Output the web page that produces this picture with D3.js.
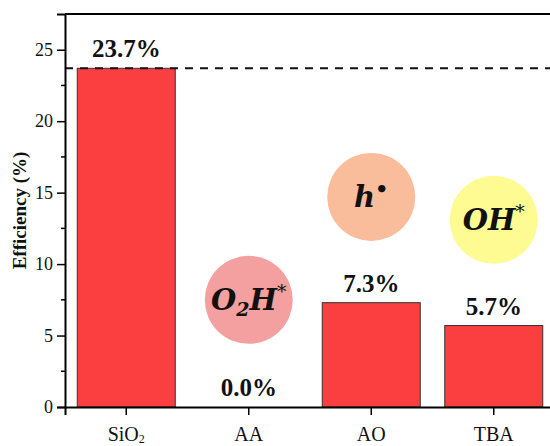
<!DOCTYPE html>
<html>
<head>
<meta charset="utf-8">
<script src="https://cdn.jsdelivr.net/npm/d3@7"></script>
<style>
  html, body { margin: 0; padding: 0; background: #fff; }
  svg { display: block; }
  svg text { font-family: "Liberation Serif", "Times New Roman", Times, serif; }
</style>
</head>
<body>
<svg id="chart" width="550" height="446"></svg>
<script>
// data
const categories = ['SiO2', 'AA', 'AO', 'TBA']
const efficiency = [23.7, 0.0, 7.3, 5.7]
const valueLabels = ['23.7%', '0.0%', '7.3%', '5.7%']
const yTicks = [0, 5, 10, 15, 20, 25]
const referenceLevel = 23.7

// species bubbles (anchored by category + value)
const bubbles = [
  { cat: 'AA', value: 7.5, fill: '#f5a0a0', label: 'O2H' },
  { cat: 'AO', value: 14.7, fill: '#f9bd9b', label: 'h' },
  { cat: 'TBA', value: 13.1, fill: '#fdfb92', label: 'OH' }
]

const svg = d3.select('#chart')
const margin = { top: 14, left: 65, bottom: 39 }
const height = 446

const x = d3.scaleBand()
  .domain(categories)
  .range([margin.left, margin.left + 490])
  .paddingInner(0.2)
  .paddingOuter(0.1)

const y = d3.scaleLinear()
  .domain([0, 27.5])
  .range([height - margin.bottom, margin.top])

// ------------------
// bars
// ------------------
svg.append('g')
  .selectAll('rect')
  .data(categories)
  .join('rect')
  .attr('x', d => x(d))
  .attr('y', (d, i) => y(efficiency[i]))
  .attr('width', x.bandwidth())
  .attr('height', (d, i) => y(0) - y(efficiency[i]))
  .attr('fill', '#fb3e3f')
  .attr('stroke', '#333')
  .attr('stroke-width', 1)

// dashed reference line
svg.append('line')
  .attr('x1', margin.left)
  .attr('x2', 560)
  .attr('y1', y(referenceLevel))
  .attr('y2', y(referenceLevel))
  .attr('stroke', '#111')
  .attr('stroke-width', 2)
  .attr('stroke-dasharray', '8,7')

// value labels
svg.append('g')
  .selectAll('text')
  .data(categories)
  .join('text')
  .attr('x', d => x(d) + x.bandwidth() / 2)
  .attr('y', (d, i) => y(efficiency[i]) - 11)
  .attr('text-anchor', 'middle')
  .attr('font-weight', 'bold')
  .attr('font-size', 25)
  .attr('fill', '#111')
  .text((d, i) => valueLabels[i])

// ------------------
// bubbles
// ------------------
const bg = svg.append('g')
bubbles.forEach(b => {
  const cx = x(b.cat) + x.bandwidth() / 2
  const cy = y(b.value)
  bg.append('circle')
    .attr('cx', cx)
    .attr('cy', cy)
    .attr('r', 44)
    .attr('fill', b.fill)
  const t = bg.append('text')
    .attr('x', cx)
    .attr('y', cy + 10)
    .attr('text-anchor', 'middle')
    .style('font-family', '"DejaVu Serif", serif')
    .attr('font-weight', 'bold')
    .attr('font-style', 'italic')
    .attr('font-size', 29)
    .attr('fill', '#111')
  if (b.label === 'O2H') {
    t.append('tspan').text('O')
    t.append('tspan').attr('font-size', 19).attr('dy', 6).text('2')
    t.append('tspan').attr('dy', -6).text('H')
    t.append('tspan').attr('font-size', 19).attr('font-style', 'normal').attr('font-weight', 'normal').attr('dy', -12).text('*')
  } else if (b.label === 'h') {
    t.append('tspan').text('h')
    t.append('tspan').attr('font-size', 21).attr('font-style', 'normal').attr('dy', -11).text('•')
  } else {
    t.append('tspan').text('OH')
    t.append('tspan').attr('font-size', 19).attr('font-style', 'normal').attr('font-weight', 'normal').attr('dy', -12).text('*')
  }
})

// ------------------
// axes
// ------------------
const yAxis = svg.append('g')
  .attr('transform', `translate(${margin.left},0)`)
  .call(d3.axisLeft(y).tickValues(yTicks).tickSize(8).tickPadding(4))
yAxis.select('.domain').attr('stroke-width', 2)
yAxis.selectAll('.tick line').attr('stroke-width', 1.5)
yAxis.selectAll('text')
  .attr('font-size', 18)
  .attr('fill', '#111')

// minor ticks
svg.append('g')
  .selectAll('line')
  .data([2.5, 7.5, 12.5, 17.5, 22.5])
  .join('line')
  .attr('x1', margin.left - 4)
  .attr('x2', margin.left)
  .attr('y1', d => y(d))
  .attr('y2', d => y(d))
  .attr('stroke', '#000')
  .attr('stroke-width', 1.5)

const xAxis = svg.append('g')
  .attr('transform', `translate(0,${y(0)})`)
  .call(d3.axisBottom(x).tickSize(8).tickPadding(14).tickFormat(() => ''))
xAxis.select('.domain').attr('stroke-width', 2)
xAxis.selectAll('.tick line').attr('stroke-width', 1.5)

// category labels (SiO2 needs subscript)
const xl = svg.append('g')
categories.forEach(c => {
  const t = xl.append('text')
    .attr('x', x(c) + x.bandwidth() / 2)
    .attr('y', 441)
    .attr('text-anchor', 'middle')
    .attr('font-size', 20)
    .attr('fill', '#111')
  if (c === 'SiO2') {
    t.append('tspan').text('SiO')
    t.append('tspan').attr('font-size', 12).attr('dy', 2).text('2')
  } else {
    t.text(c)
  }
})

// top frame line
svg.append('line')
  .attr('x1', margin.left)
  .attr('x2', 560)
  .attr('y1', y(27.5))
  .attr('y2', y(27.5))
  .attr('stroke', '#000')
  .attr('stroke-width', 2)

// axis title
svg.append('text')
  .attr('transform', `translate(26,${(y(0) + y(27.5)) / 2}) rotate(-90)`)
  .attr('text-anchor', 'middle')
  .attr('font-weight', 'bold')
  .attr('font-size', 19)
  .attr('fill', '#111')
  .text('Efficiency (%)')
</script>
</body>
</html>
